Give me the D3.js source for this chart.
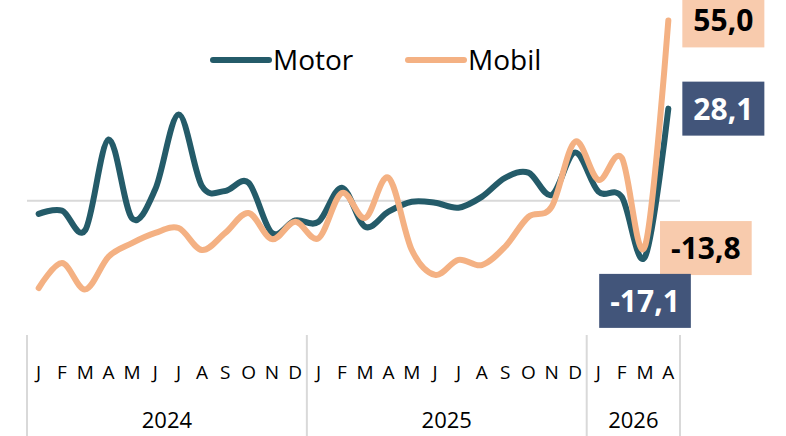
<!DOCTYPE html>
<html lang="id">
<head>
<meta charset="UTF-8">
<title>Motor vs Mobil</title>
<script src="https://cdnjs.cloudflare.com/ajax/libs/d3/7.8.5/d3.min.js"></script>
<style>
  body { margin: 0; background: #fff; }
  svg { display: block; font-family: "Open Sans", sans-serif; }
</style>
</head>
<body>
<div id="chart"></div>
<script>
// data
const months = ["J","F","M","A","M","J","J","A","S","O","N","D",
                "J","F","M","A","M","J","J","A","S","O","N","D",
                "J","F","M","A"];
const years = ["2024", "2025", "2026"];
const yearCounts = [12, 12, 4];
const motor = [-4.0, -3.0, -8.9, 18.7, -5.3, 3.5, 26.3, 4.5, 3.0, 5.5, -9.8, -6.0,
               -6.4, 4.0, -7.9, -3.3, -0.3, -0.6, -2.1, 1.2, 7.0, 8.6, 1.8, 14.7,
               2.8, 1.2, -17.1, 28.1];
const mobil = [-26.6, -19.0, -27.0, -17.0, -12.9, -9.8, -8.3, -15.0, -9.8, -3.7, -11.7, -6.4,
               -11.4, 2.4, -5.2, 7.0, -15.0, -22.6, -18.0, -19.6, -14.0, -4.9, -1.8, 18.0,
               6.4, 13.1, -13.8, 55.0];
const seriesNames = ["Motor", "Mobil"];
const colors = ["#245b69", "#f4b183"];
const boxColors = ["#42557a", "#f8cbad"];
const boxText = ["#fff", "#000"];

const width = 786, height = 436;
const svg = d3.select("#chart").append("svg")
    .attr("width", width).attr("height", height);

const x = d3.scaleBand().domain(d3.range(months.length)).range([27, 680]);
const y = d3.scaleLinear().domain([-40, 60]).range([332, 4]);
const cx = i => x(i) + x.bandwidth() / 2;

// zero line
svg.append("line")
    .attr("x1", x.range()[0]).attr("x2", x.range()[1])
    .attr("y1", y(0)).attr("y2", y(0))
    .attr("stroke", "#d9d9d9").attr("stroke-width", 2);

// x axis: months + years
svg.append("g").selectAll("text")
    .data(months).join("text")
    .attr("x", (d, i) => cx(i))
    .attr("y", 379)
    .attr("text-anchor", "middle")
    .attr("font-size", 19)
    .attr("fill", "#000")
    .text(d => d);

let start = 0;
const bounds = [start];
yearCounts.forEach(n => { start += n; bounds.push(start); });
const bx0 = d => d < months.length ? x(d) : x.range()[1];
svg.append("g").selectAll("line")
    .data(bounds).join("line")
    .attr("x1", bx0).attr("x2", bx0)
    .attr("y1", 335).attr("y2", height)
    .attr("stroke", "#d9d9d9").attr("stroke-width", 2);

svg.append("g").selectAll("text")
    .data(years).join("text")
    .attr("x", (d, i) => (bx0(bounds[i]) + bx0(bounds[i + 1])) / 2)
    .attr("y", 428)
    .attr("text-anchor", "middle")
    .attr("font-size", 22)
    .attr("fill", "#000")
    .text(d => d);

// lines
const line = d3.line()
    .x((d, i) => cx(i))
    .y(d => y(d))
    .curve(d3.curveCardinal.tension(0));

[motor, mobil].forEach((s, k) => {
    svg.append("path")
        .datum(s)
        .attr("d", line)
        .attr("fill", "none")
        .attr("stroke", colors[k])
        .attr("stroke-width", 6)
        .attr("stroke-linecap", "round")
        .attr("stroke-linejoin", "round");
});

// legend
const legendX = [213, 408];
seriesNames.forEach((name, k) => {
    const g = svg.append("g").attr("transform", `translate(${legendX[k]},60)`);
    g.append("line")
        .attr("x1", 0).attr("x2", 56)
        .attr("stroke", colors[k]).attr("stroke-width", 6)
        .attr("stroke-linecap", "round");
    g.append("text")
        .attr("x", 60).attr("y", 10)
        .attr("font-size", 28)
        .attr("fill", "#000")
        .text(name);
});

// data labels
const fmt = v => d3.format(".1f")(v).replace("\u2212", "-").replace(".", ",");
const last = months.length - 1, low = months.length - 2;
const labels = [
    { s: 1, i: last, dx: 14, dy: 0, anchor: "left" },
    { s: 0, i: last, dx: 14, dy: 0, anchor: "left" },
    { s: 1, i: low, dx: 15, dy: 2, anchor: "left" },
    { s: 0, i: low, dx: 0, dy: 44, anchor: "middle" }
];
const sData = [motor, mobil];
labels.forEach(l => {
    const v = sData[l.s][l.i];
    const g = svg.append("g");
    const t = g.append("text")
        .attr("font-size", 30)
        .attr("font-weight", "bold")
        .attr("fill", boxText[l.s])
        .attr("text-anchor", "middle")
        .text(fmt(v));
    const w = t.node().getComputedTextLength() + 22;
    const h = 54;
    const px = cx(l.i), py = y(v);
    const bx = l.anchor === "left" ? px + l.dx : px - w / 2;
    const byc = py + l.dy;
    g.insert("rect", "text")
        .attr("x", bx).attr("y", byc - h / 2)
        .attr("width", w).attr("height", h)
        .attr("fill", boxColors[l.s]);
    t.attr("x", bx + w / 2).attr("y", byc + 11);
});
</script>
</body>
</html>
